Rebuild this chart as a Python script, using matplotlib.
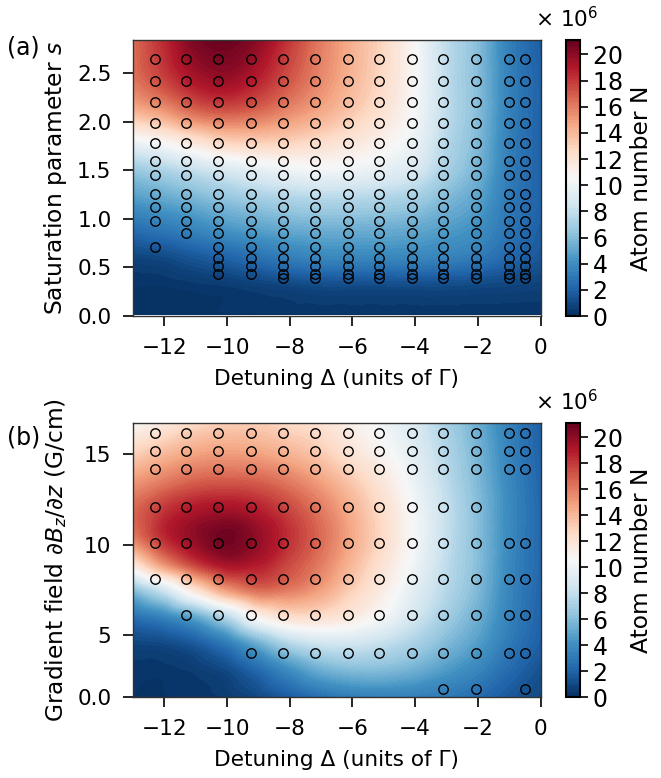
import numpy as np
import matplotlib
matplotlib.use("Agg")
import matplotlib.pyplot as plt
import matplotlib.tri as mtri
from matplotlib.ticker import ScalarFormatter

# ---------------- measurement positions ----------------
detuning_cols = [-12.3, -11.3, -10.3, -9.25, -8.2, -7.2, -6.15, -5.15, -4.1, -3.1, -2.05, -1.0, -0.5]

s_full = [0.39, 0.43, 0.51, 0.60, 0.71, 0.85, 0.98, 1.12, 1.26, 1.45, 1.60, 1.78, 1.99, 2.20, 2.42, 2.64]
s_meas = [
    [0.71, 0.98, 1.12, 1.26, 1.45, 1.60, 1.78, 1.99, 2.20, 2.42, 2.64],
    [0.85, 0.98, 1.12, 1.26, 1.45, 1.60, 1.78, 1.99, 2.20, 2.42, 2.64],
    [0.43, 0.51, 0.60, 0.71, 0.85, 0.98, 1.12, 1.26, 1.45, 1.60, 1.78, 1.99, 2.20, 2.42, 2.64],
    [0.43, 0.51, 0.60, 0.71, 0.85, 0.98, 1.12, 1.26, 1.45, 1.60, 1.78, 1.99, 2.20, 2.42, 2.64],
    s_full, s_full, s_full, s_full, s_full, s_full, s_full, s_full, s_full,
]

grad_meas = [
    [8.1, 10.1, 12.1, 14.2, 15.2, 16.2],
    [6.1, 8.1, 10.1, 12.1, 14.2, 15.2, 16.2],
    [6.1, 8.1, 10.1, 12.1, 14.2, 15.2, 16.2],
    [4.0, 6.1, 8.1, 10.1, 12.1, 14.2, 15.2, 16.2],
    [4.0, 6.1, 8.1, 10.1, 12.1, 14.2, 15.2, 16.2],
    [4.0, 6.1, 8.1, 10.1, 12.1, 14.2, 15.2, 16.2],
    [4.0, 6.1, 8.1, 10.1, 12.1, 14.2, 15.2, 16.2],
    [4.0, 6.1, 8.1, 10.1, 12.1, 14.2, 15.2, 16.2],
    [4.0, 6.1, 8.1, 10.1, 12.1, 14.2, 15.2, 16.2],
    [2.0, 4.0, 6.1, 8.1, 10.1, 12.1, 14.2, 15.2, 16.2],
    [2.0, 4.0, 6.1, 8.1, 10.1, 12.1, 14.2, 15.2, 16.2],
    [4.0, 6.1, 8.1, 10.1, 14.2, 15.2, 16.2],
    [2.0, 4.0, 6.1, 8.1, 10.1, 14.2, 15.2, 16.2],
]

# ---------------- atom-number maps (units of 1e6) ----------------
grid_detuning = [-13, -12, -11, -10, -9, -8, -7, -6, -5, -4, -3, -2, -1, 0]

grid_s = [0.02, 0.3, 0.6, 0.9, 1.2, 1.5, 1.8, 2.1, 2.4, 2.84]
atoms_s = [
    [0.2, 0.2, 0.2, 0.2, 0.2, 0.2, 0.2, 0.2, 0.2, 0.2, 0.2, 0.2, 0.2, 0.2],
    [0.2, 0.2, 0.3, 0.4, 0.6, 0.8, 1.0, 1.0, 1.0, 1.0, 1.0, 0.9, 0.8, 0.7],
    [0.8, 1.0, 1.5, 2.0, 2.6, 3.2, 3.6, 3.6, 3.6, 3.6, 3.4, 3.0, 2.2, 1.5],
    [2.5, 3.0, 3.6, 4.3, 4.8, 5.2, 5.4, 5.4, 5.3, 5.1, 4.6, 4.0, 2.8, 1.8],
    [4.5, 5.0, 5.6, 6.3, 6.8, 7.2, 7.4, 7.4, 7.2, 6.8, 5.8, 4.8, 3.0, 2.0],
    [6.5, 7.2, 8.0, 8.8, 9.5, 10.0, 10.2, 10.0, 9.5, 8.8, 7.0, 5.5, 3.2, 2.0],
    [10.0, 10.8, 12.0, 13.0, 13.2, 13.0, 12.5, 11.8, 11.0, 9.8, 7.5, 5.8, 3.3, 2.0],
    [14.0, 15.0, 16.5, 17.0, 16.5, 15.5, 14.5, 13.3, 12.0, 10.3, 7.8, 6.0, 3.4, 2.0],
    [16.0, 17.5, 19.0, 19.5, 18.5, 17.0, 15.5, 14.0, 12.5, 10.5, 7.8, 6.0, 3.4, 2.0],
    [16.5, 18.5, 20.5, 21.0, 20.0, 18.0, 16.0, 14.3, 12.7, 10.5, 7.8, 6.0, 3.3, 1.8],
]

grid_grad = [1.62, 3.0, 4.5, 6.0, 7.5, 9.0, 10.5, 12.0, 13.5, 15.0, 16.8]
atoms_grad = [
    [0.2, 0.2, 0.3, 0.5, 1.0, 1.8, 2.6, 3.2, 3.4, 3.3, 3.0, 2.4, 1.6, 1.0],
    [0.3, 0.3, 0.5, 1.0, 2.2, 3.8, 5.2, 5.8, 5.8, 5.3, 4.4, 3.5, 2.3, 1.3],
    [0.8, 1.0, 1.6, 3.0, 5.2, 7.3, 8.3, 8.4, 7.9, 7.0, 5.8, 4.6, 3.0, 1.8],
    [2.5, 3.5, 5.0, 7.5, 10.8, 12.3, 12.3, 11.5, 10.2, 8.5, 6.8, 5.3, 3.4, 2.0],
    [6.0, 8.5, 12.0, 15.0, 16.5, 16.0, 14.8, 13.0, 11.3, 9.3, 7.5, 5.8, 3.6, 2.1],
    [12.0, 15.5, 18.0, 19.5, 19.0, 17.5, 16.0, 14.0, 12.0, 10.0, 7.8, 6.0, 3.7, 2.2],
    [16.0, 18.5, 20.0, 20.8, 19.8, 18.2, 16.5, 14.5, 12.5, 10.3, 8.0, 6.0, 3.8, 2.2],
    [16.5, 18.0, 19.0, 19.3, 18.7, 17.5, 16.0, 14.2, 12.3, 10.2, 8.0, 6.0, 3.8, 2.2],
    [15.0, 16.0, 16.8, 17.0, 16.8, 16.0, 14.8, 13.3, 11.7, 9.8, 7.7, 5.8, 3.7, 2.1],
    [13.0, 14.0, 14.8, 15.0, 14.8, 14.2, 13.3, 12.0, 10.8, 9.3, 7.4, 5.6, 3.5, 2.0],
    [10.5, 11.5, 12.5, 13.0, 13.0, 12.5, 12.0, 11.0, 10.0, 8.8, 7.0, 5.3, 3.3, 1.9],
]

N_MAX = 21.1e6
FS = 15.6      # horizontal text
FS_V = 16.8    # rotated axis labels
FS_CB = 17.0   # colour-bar tick labels

plt.rcParams["font.family"] = "DejaVu Sans"
plt.rcParams["font.size"] = FS
plt.rcParams["mathtext.fontset"] = "dejavusans"


def grid_triangulation(gx, gy):
    X, Y = np.meshgrid(gx, gy)
    nx, ny = len(gx), len(gy)
    tris = []
    for j in range(ny - 1):
        for i in range(nx - 1):
            a = j * nx + i
            b = a + 1
            c = a + nx
            d = c + 1
            tris.append([a, b, d])
            tris.append([a, d, c])
    return mtri.Triangulation(X.ravel(), Y.ravel(), np.array(tris))


def draw_map(ax, gx, gy, values):
    tri = grid_triangulation(gx, gy)
    z = np.asarray(values, dtype=float).ravel() * 1e6
    interp = mtri.CubicTriInterpolator(tri, z, kind="geom")
    refiner = mtri.UniformTriRefiner(tri)
    tri_f, z_f = refiner.refine_field(z, triinterpolator=interp, subdiv=4)
    z_f = np.clip(z_f, 0, N_MAX * 0.999)
    levels = np.linspace(0, N_MAX, 101)
    return ax.tricontourf(tri_f, z_f, levels=levels, cmap="RdBu_r",
                          vmin=0, vmax=N_MAX)


def draw_points(ax, cols, ys):
    for x, col in zip(cols, ys):
        ax.plot([x] * len(col), col, linestyle="none", marker="o",
                markersize=6.8, markerfacecolor="none",
                markeredgecolor="black", markeredgewidth=1.0)


def add_colorbar(fig, cs, rect):
    cax = fig.add_axes(rect)
    cb = fig.colorbar(cs, cax=cax, ticks=np.arange(0, 21e6, 2e6))
    fmt = ScalarFormatter(useMathText=True)
    fmt.set_powerlimits((6, 6))
    cb.formatter = fmt
    cb.update_ticks()
    cb.set_label("Atom number N", fontsize=FS_V, labelpad=5)
    cb.ax.tick_params(labelsize=FS_CB, length=6, width=1.2, pad=3)
    cb.ax.yaxis.get_offset_text().set_visible(False)
    cb.outline.set_linewidth(1.5)
    # multiplier shown above the bar
    fig.text((rect[0] + rect[2]) + 18 / 661, rect[1] + rect[3] + 21 / 778,
             r"$\times\ \mathdefault{10^{6}}$", fontsize=FS,
             ha="right", va="center")
    return cb


fig = plt.figure(figsize=(6.61, 7.78), dpi=100)
W, H = 661.0, 778.0

ax_a = fig.add_axes([133 / W, 1 - 316 / H, 407.5 / W, 276 / H])
ax_b = fig.add_axes([133 / W, 1 - 697.3 / H, 407.5 / W, 274.6 / H])

cs_a = draw_map(ax_a, grid_detuning, grid_s, atoms_s)
draw_points(ax_a, detuning_cols, s_meas)
ax_a.set_xlim(-13, 0)
ax_a.set_ylim(0, 2.84)
ax_a.set_xticks([-12, -10, -8, -6, -4, -2, 0])
ax_a.set_yticks([0, 0.5, 1.0, 1.5, 2.0, 2.5])
ax_a.set_xlabel("Detuning Δ (units of Γ)", labelpad=8)
ax_a.set_ylabel("Saturation parameter $s$", fontsize=FS_V, labelpad=6)

cs_b = draw_map(ax_b, grid_detuning, grid_grad, atoms_grad)
draw_points(ax_b, detuning_cols, grad_meas)
ax_b.set_xlim(-13, 0)
ax_b.set_ylim(1.55, 16.75)
ax_b.set_xticks([-12, -10, -8, -6, -4, -2, 0])
ax_b.set_yticks([1.55, 5, 10, 15], ["0.0", "5", "10", "15"])
ax_b.set_xlabel("Detuning Δ (units of Γ)", labelpad=8)
ax_b.set_ylabel(r"Gradient field $\partial B_z/\partial z$ (G/cm)",
                fontsize=FS_V, labelpad=6)

for ax in (ax_a, ax_b):
    ax.tick_params(length=7, width=1.2, labelsize=FS, pad=8.5)
    for sp in ax.spines.values():
        sp.set_linewidth(1.0)
        sp.set_color("#333333")

add_colorbar(fig, cs_a, [565.7 / W, 1 - 316 / H, 14.3 / W, 276 / H])
add_colorbar(fig, cs_b, [565.7 / W, 1 - 697.3 / H, 14.3 / W, 274.6 / H])

fig.text(7 / W, 1 - 48 / H, "(a)", fontsize=17, va="center", ha="left")
fig.text(7 / W, 1 - 437 / H, "(b)", fontsize=17, va="center", ha="left")

fig.savefig("out.png", dpi=100)
